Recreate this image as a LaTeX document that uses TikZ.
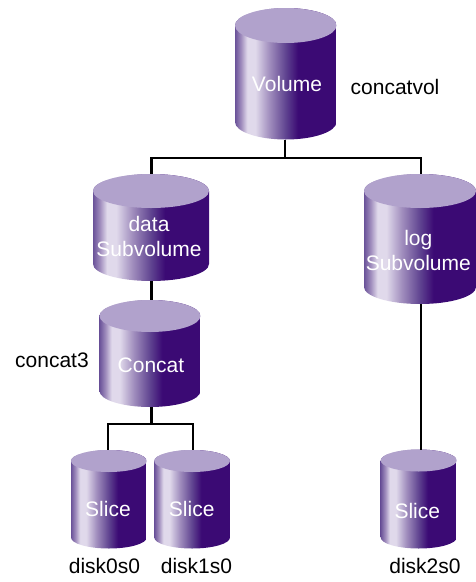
\documentclass[tikz,border=0pt]{standalone}
\usepackage{fontspec}
\setmainfont{Liberation Sans}
\definecolor{captop}{HTML}{B1A2CC}
\definecolor{cdark}{HTML}{3B0A74}
\definecolor{cedge}{HTML}{6A5299}
\definecolor{clight}{HTML}{E0D9EB}
\definecolor{cmid}{HTML}{A08DBD}
\definecolor{cmid2}{HTML}{5F4390}
\pgfdeclarehorizontalshading{drum}{100bp}{
 color(0bp)=(cedge); color(25bp)=(cedge); color(28bp)=(cmid); color(31bp)=(clight); color(35bp)=(clight);
 color(42bp)=(cmid); color(50bp)=(cmid2); color(56bp)=(cdark); color(100bp)=(cdark)}
\tikzset{
 link/.style={line width=2.2pt,black,line join=miter},
 drumlabel/.style={text=white,font=\fontsize{21}{25.5}\selectfont,align=center,inner sep=0pt},
 caption/.style={text=black,font=\fontsize{21}{25.5}\selectfont,inner sep=0pt},
 anchorbox/.style={inner sep=0pt,outer sep=0pt}
}
% #1 name, #2 left, #3 right, #4 top, #5 bottom, #6 ry (pixels, y downward)
\newcommand{\drum}[6]{%
 \pgfmathsetmacro{\cx}{(#2+#3)/2}\pgfmathsetmacro{\rx}{(#3-#2)/2}
 \pgfmathsetmacro{\ytop}{#4+#6}\pgfmathsetmacro{\ybot}{#5-#6}
 \pgfmathsetmacro{\hh}{#5-#4}\pgfmathsetmacro{\ww}{#3-#2}
 \begin{scope}
  \clip (#2,-\ytop) -- (#2,-\ybot) arc[start angle=180,end angle=360,x radius=\rx,y radius=#6] -- (#3,-\ytop) arc[start angle=0,end angle=180,x radius=\rx,y radius=#6] -- cycle;
  \node[anchorbox,shading=drum,minimum width=\ww pt,minimum height=\hh pt,shading angle=0] at (\cx,-#4-\hh/2) {};
 \end{scope}
 \fill[captop] (\cx,-\ytop) ellipse[x radius=\rx,y radius=#6];
 \node[anchorbox,minimum width=\ww,minimum height=\hh] (#1) at (\cx,-#4-\hh/2) {};
}
\begin{document}
\begin{tikzpicture}[x=1pt,y=1pt]
\useasboundingbox (0,0) rectangle (476,-582);
% connector columns and buses
\coordinate (colvol) at (285,-158.3);
\coordinate (coldata) at (151.5,-300);
\coordinate (collog) at (420.7,-300);
\coordinate (busb) at (151.5,-424.3);
\coordinate (cola) at (107.7,-440);
\coordinate (colb) at (193.3,-440);
\drum{vol}{235}{336.5}{8}{139.5}{17.5}
\drum{datasv}{93}{209}{174}{281}{17}
\drum{logsv}{364}{476}{174}{304}{17}
\drum{concat}{99.5}{200.5}{300}{407}{16}
\drum{sa}{71}{146.7}{450}{548.5}{11}
\drum{sb}{154.3}{230}{450}{548.5}{11}
\drum{sc}{380.7}{456.7}{449.5}{548.5}{11}
\draw[link] (vol.south -| colvol) -- (colvol) -| (datasv.north -| coldata);
\draw[link] (colvol) -| (logsv.north -| collog);
\draw[link] (datasv.south -| coldata) -- (concat.north -| coldata);
\draw[link] (concat.south -| busb) -- (busb) -| (sa.north -| cola);
\draw[link] (busb) -| (sb.north -| colb);
\draw[link] (logsv.south -| collog) -- (sc.north -| collog);
\node[drumlabel] at (287,-83.5) {Volume};
\node[drumlabel] at (149,-236.5) {data\\Subvolume};
\node[drumlabel] at (418.3,-250.5) {log\\Subvolume};
\node[drumlabel] at (151,-365) {Concat};
\node[drumlabel] at (108,-509) {Slice};
\node[drumlabel] at (191.7,-509) {Slice};
\node[drumlabel] at (417.3,-511) {Slice};
\node[caption,anchor=west] at (350.5,-87) {concatvol};
\node[caption,anchor=west] at (15,-360) {concat3};
\node[caption] at (104.5,-566) {disk0s0};
\node[caption] at (196.5,-566) {disk1s0};
\node[caption] at (425,-566) {disk2s0};
\end{tikzpicture}
\end{document}
